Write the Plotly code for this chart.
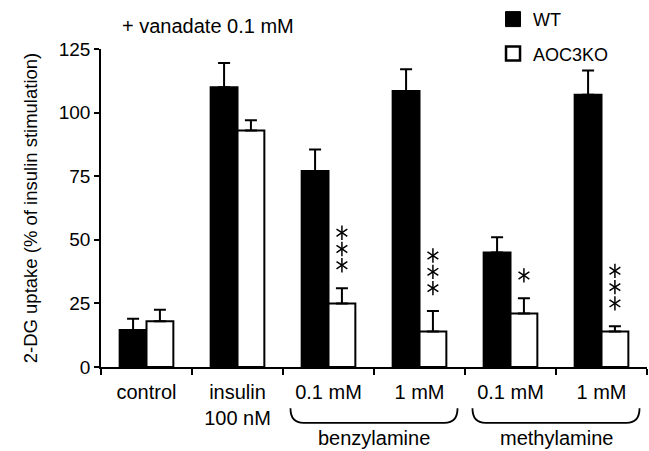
import plotly.graph_objects as go

categories = ["control", "insulin", "benz_0.1", "benz_1", "meth_0.1", "meth_1"]
tick_labels = ["control", "insulin<br>100 nM", "0.1 mM", "1 mM", "0.1 mM", "1 mM"]
wt_values = [14.5, 110, 77, 108.5, 45, 107]
wt_errors = [4.5, 9.5, 8.5, 8.5, 6, 9.5]
ko_values = [18, 93, 25, 14, 21, 14]
ko_errors = [4.5, 4, 6, 8, 6, 2]
ko_stars = [0, 0, 3, 3, 1, 3]
group_labels = ["benzylamine", "methylamine"]
group_centers = [0.5, 5 / 6]  # paper fraction (category boundaries)

FONT = "Liberation Sans, Arial, Helvetica, sans-serif"
BARGAP = 0.41
xpos = list(range(len(categories)))
ko_offset = (1 - BARGAP) / 4  # centre of the second bar in each group

# significance star positions, derived from the KO bars (9 units above cap, 6.4 apart)
star_x, star_y = [], []
for i, (v, e, n) in enumerate(zip(ko_values, ko_errors, ko_stars)):
    for k in range(n):
        star_x.append(i + ko_offset)
        star_y.append(v + e + 9 + 6.4 * k)

fig = go.Figure()
fig.add_trace(go.Bar(
    x=xpos, y=wt_values, name="WT", showlegend=False,
    marker=dict(color="black", line=dict(color="black", width=2)),
    error_y=dict(type="data", array=wt_errors, arrayminus=[0] * 6, symmetric=False,
                 color="black", thickness=2, width=6),
))
fig.add_trace(go.Bar(
    x=xpos, y=ko_values, name="AOC3KO", showlegend=False,
    marker=dict(color="white", line=dict(color="black", width=2)),
    error_y=dict(type="data", array=ko_errors, arrayminus=[0] * 6, symmetric=False,
                 color="black", thickness=2, width=6),
))
for sym in ["y-up-open", "y-down-open"]:
    fig.add_trace(go.Scatter(
        x=star_x, y=star_y, mode="markers", showlegend=False, hoverinfo="skip",
        marker=dict(symbol=sym, size=9, color="black", line=dict(color="black", width=1.5)),
    ))
# legend entries
fig.add_trace(go.Scatter(
    x=[None], y=[None], mode="markers", name="WT", legendgroup="wt",
    marker=dict(symbol="square", size=15, color="black", line=dict(color="black", width=1)),
))
fig.add_trace(go.Scatter(
    x=[None], y=[None], mode="markers", name="AOC3KO", legendgroup="ko",
    marker=dict(symbol="square", size=14, color="white", line=dict(color="black", width=2.5)),
))

annotations = [dict(
    x=0.035, y=1.072, xref="paper", yref="paper", text="+ vanadate 0.1 mM",
    showarrow=False, xanchor="left", yanchor="middle",
    font=dict(family=FONT, size=20, color="black"),
)]
for lab, c in zip(group_labels, group_centers):
    annotations.append(dict(
        x=c, y=-0.223, xref="paper", yref="paper", text=lab, showarrow=False,
        xanchor="center", yanchor="middle",
        font=dict(family=FONT, size=20, color="black"),
    ))

shapes = []
half = 0.153
ytop, ybot = -0.13, -0.176
for c in group_centers:
    x0, x1 = c - half, c + half
    r = 0.024
    path = (f"M {x0},{ytop} Q {x0},{ybot} {x0 + r},{ybot} "
            f"L {x1 - r},{ybot} Q {x1},{ybot} {x1},{ytop}")
    shapes.append(dict(type="path", path=path, xref="paper", yref="paper",
                       line=dict(color="black", width=1.8)))

fig.update_layout(
    width=649, height=451,
    margin=dict(l=101, r=2, t=49, b=84, autoexpand=False),
    paper_bgcolor="white", plot_bgcolor="white",
    barmode="group", bargap=BARGAP, bargroupgap=0,
    font=dict(family=FONT, size=20, color="black"),
    showlegend=True,
    legend=dict(x=0.718, y=0.998, xref="paper", yref="container",
                xanchor="left", yanchor="top",
                font=dict(family=FONT, size=18, color="black"),
                tracegroupgap=8, bgcolor="rgba(0,0,0,0)"),
    annotations=annotations,
    shapes=shapes,
)
fig.update_xaxes(
    range=[-0.5, 5.5], tickmode="array", tickvals=xpos, ticktext=tick_labels,
    ticks="", ticklabelstandoff=6,
    minor=dict(tickmode="linear", tick0=-0.5, dtick=1, ticks="outside",
               ticklen=6, tickwidth=1.5, tickcolor="black", showgrid=False),
    showline=True, linecolor="black", linewidth=1.5,
    showgrid=False, zeroline=False, tickfont=dict(family=FONT, size=20),
)
fig.update_yaxes(
    range=[0, 125], tickvals=[0, 25, 50, 75, 100, 125],
    ticks="outside", ticklen=5, tickwidth=1.5, tickcolor="black",
    showline=True, linecolor="black", linewidth=1.5,
    showgrid=False, zeroline=False, tickfont=dict(family=FONT, size=19),
    title=dict(text="2-DG uptake (% of insulin stimulation)",
               font=dict(family=FONT, size=18.5), standoff=16),
)

fig.write_html(
    "out.html",
    config={"displayModeBar": False},
    post_script="document.body.style.margin='0';document.body.style.overflow='hidden';",
)
